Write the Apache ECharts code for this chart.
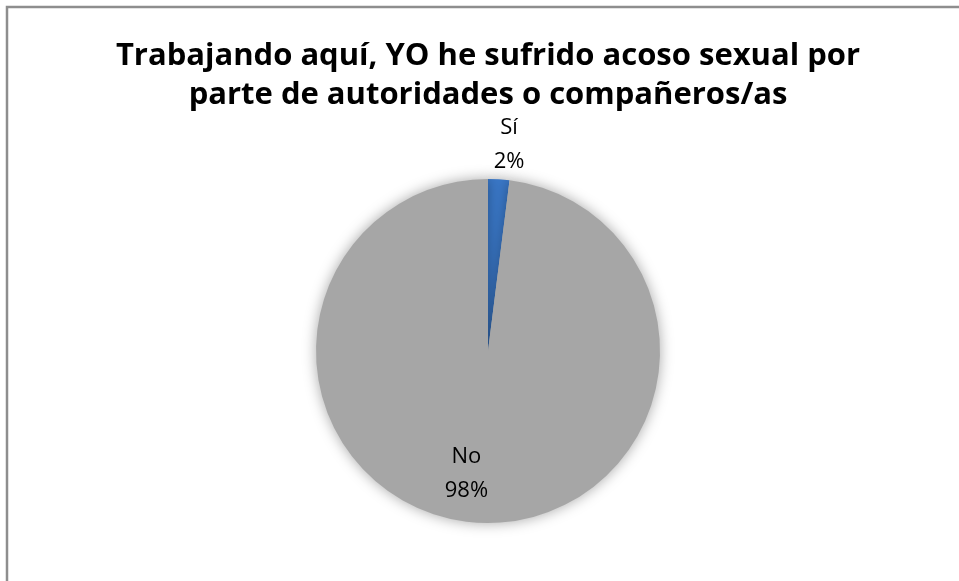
<!DOCTYPE html>
<html>
<head>
<meta charset="utf-8">
<script src="https://cdn.jsdelivr.net/npm/echarts@6/dist/echarts.min.js"></script>
<style>
  html, body { margin: 0; padding: 0; background: #ffffff; }
  #chart { width: 959px; height: 581px; }
</style>
</head>
<body>
<div id="chart"></div>
<script>
// Survey answers and their shares (percent)
const categories = ['Sí', 'No'];
const shares = [2, 98];
const sliceColors = ['#3a78c8', '#a6a6a6'];

const titleLines = [
  'Trabajando aquí, YO he sufrido acoso sexual por',
  'parte de autoridades o compañeros/as'
];

// Label placement per slice: the small slice gets its label outside, the big one inside
const labelPositions = ['outside', 'inside'];
// Small nudges applied to each label after the default pie layout
const labelNudge = [
  { dx: 5, dy: -30, align: 'center' },
  { dx: -16, dy: 34 }
];

const chart = echarts.init(document.getElementById('chart'), null, { renderer: 'canvas' });

const pieData = categories.map((name, i) => ({
  name: name,
  value: shares[i],
  itemStyle: { color: sliceColors[i] },
  label: { position: labelPositions[i] }
}));

chart.setOption({
  backgroundColor: '#ffffff',
  animation: false,
  title: {
    text: titleLines.join('\n'),
    left: 483,
    top: 32,
    textAlign: 'center',
    textStyle: {
      fontFamily: 'Open Sans',
      fontWeight: 'bold',
      fontSize: 31,
      lineHeight: 39,
      color: '#000000'
    }
  },
  graphic: [{
    type: 'rect',
    shape: { x: 7, y: 7, width: 980, height: 620 },
    style: { fill: 'none', stroke: '#8e8e8e', lineWidth: 2.5 },
    silent: true
  }],
  series: [{
    type: 'pie',
    center: [488, 351],
    radius: 172,
    startAngle: 90,
    clockwise: true,
    data: pieData,
    itemStyle: {
      borderWidth: 0,
      shadowBlur: 14,
      shadowColor: 'rgba(0,0,0,0.35)'
    },
    label: {
      show: true,
      formatter: p => p.name + '\n' + Math.round(p.percent) + '%',
      fontFamily: 'Open Sans',
      fontSize: 22,
      lineHeight: 34,
      color: '#000000'
    },
    labelLine: { show: false, length: 5, length2: 0 },
    labelLayout: params => labelNudge[params.dataIndex],
    emphasis: { disabled: true }
  }]
});
</script>
</body>
</html>
